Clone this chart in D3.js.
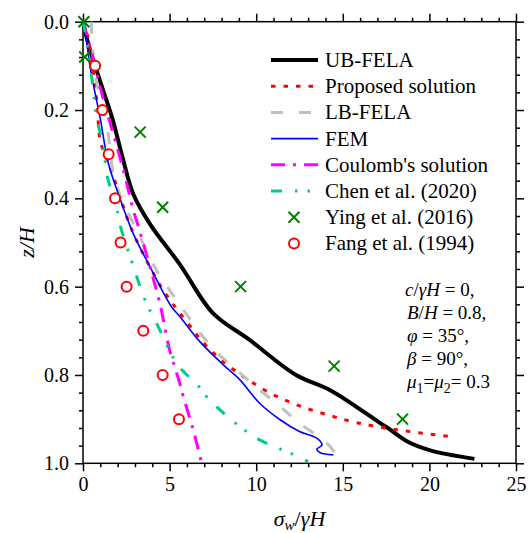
<!DOCTYPE html>
<html>
<head>
<meta charset="utf-8">
<script src="https://cdn.jsdelivr.net/npm/d3@7"></script>
<style>
  body { margin: 0; background: #fff; }
  svg text { font-family: "Liberation Serif", "Times New Roman", serif !important; fill: #000; }
</style>
</head>
<body>
<div id="chart"></div>
<script>
// depth ratios z/H and normalised pressure sigma_w/gammaH
var ubX = [0, 0.3, 0.7, 1.2, 1.7, 2.3, 2.9, 3.9, 5.6, 7.5, 9.6, 12.3, 14.3, 17.2, 17.6, 18.7, 20.0, 22.6];
var ubZ = [0, 0.05, 0.1, 0.16, 0.22, 0.31, 0.39, 0.46, 0.55, 0.66, 0.72, 0.80, 0.835, 0.91, 0.92, 0.95, 0.97, 0.99];

var propX = [0, 0.25, 0.8, 1.0, 1.66, 2.7, 3.4, 4.5, 5.4, 6.4, 6.9, 8.1, 9.5, 11.0, 12.5, 14.1, 15.8, 18.3, 21.3];
var propZ = [0, 0.03, 0.18, 0.27, 0.34, 0.46, 0.52, 0.6, 0.65, 0.7, 0.725, 0.77, 0.81, 0.845, 0.87, 0.89, 0.908, 0.925, 0.94];

var lbX = [0.5, 0.5, 0.8, 1.4, 1.85, 3.2, 4.35, 5.4, 6.3, 7.5, 8.9, 10.2, 11.4, 12.5, 14.1, 14.7];
var lbZ = [0, 0.03, 0.14, 0.24, 0.36, 0.48, 0.57, 0.63, 0.68, 0.74, 0.79, 0.834, 0.872, 0.909, 0.955, 0.985];

var femX = [0.1, 0.4, 1.0, 1.46, 2.04, 2.9, 3.87, 5.1, 5.6, 6.76, 8.1, 9.06, 10.2, 11.4, 12.5, 13.5, 13.8, 13.5, 13.7, 14.45];
var femZ = [0, 0.1, 0.22, 0.32, 0.39, 0.48, 0.555, 0.645, 0.668, 0.725, 0.777, 0.811, 0.864, 0.902, 0.928, 0.943, 0.959, 0.968, 0.976, 0.981];

var coulX = [0, 0.5, 1.0, 1.5, 2.33, 2.9, 3.2, 3.9, 4.45, 5.0, 5.6, 5.8, 6.37, 6.85];
var coulZ = [0, 0.07, 0.15, 0.22, 0.336, 0.426, 0.464, 0.56, 0.64, 0.743, 0.82, 0.85, 0.925, 1.0];

var chenX = [0, 0.1, 0.5, 0.8, 1.17, 1.4, 1.94, 2.14, 3.0, 3.58, 4.25, 5.41, 5.9, 6.56, 7.23, 8.7, 10.2, 11.95, 13.0];
var chenZ = [0, 0.02, 0.125, 0.22, 0.28, 0.35, 0.42, 0.46, 0.565, 0.63, 0.683, 0.774, 0.796, 0.82, 0.853, 0.906, 0.947, 0.977, 0.996];

var yingX = [0.05, 0.1, 3.3, 4.6, 9.1, 14.5, 18.45];
var yingZ = [0, 0.08, 0.25, 0.42, 0.6, 0.78, 0.9];

var fangX = [0.7, 1.12, 1.48, 1.85, 2.17, 2.52, 3.48, 4.6, 5.54];
var fangZ = [0.1, 0.2, 0.3, 0.4, 0.5, 0.6, 0.7, 0.8, 0.9];

var xTicks = [0, 5, 10, 15, 20, 25];
var yTicks = [0, 0.2, 0.4, 0.6, 0.8, 1.0];

var W = 528, H = 533;
var pL = 83, pR = 516, pT = 21.7, pB = 463.3;
var serif = "Liberation Serif";

var svg = d3.select("#chart").append("svg")
    .attr("width", W)
    .attr("height", H)
    .attr("font-family", serif);

var x = d3.scaleLinear().domain([0, 25]).range([pL, pR]);
var y = d3.scaleLinear().domain([0, 1]).range([pT, pB]);

var minorX = d3.range(0, 25.01, 1).filter(function(v){ return v % 5 !== 0; });
var minorY = d3.range(0, 1.001, 0.04).map(function(v){ return +v.toFixed(2); })
    .filter(function(v){ return Math.abs(v*5 - Math.round(v*5)) > 1e-6; });

function styleAxis(g) {
  g.attr("font-family", serif);
  g.select(".domain").remove();
  g.selectAll("line").attr("stroke", "#000").attr("stroke-width", 1.5);
  g.selectAll("text").style("font-size", "20px").style("font-family", serif).attr("fill", "#000");
}

// bottom
svg.append("g").attr("transform", "translate(0," + pB + ")")
  .call(d3.axisBottom(x).tickValues(xTicks).tickSize(8).tickPadding(6).tickFormat(d3.format("d")))
  .call(styleAxis);
svg.append("g").attr("transform", "translate(0," + pB + ")")
  .call(d3.axisBottom(x).tickValues(minorX).tickSize(4).tickFormat(""))
  .call(styleAxis);
// top
svg.append("g").attr("transform", "translate(0," + pT + ")")
  .call(d3.axisTop(x).tickValues(xTicks).tickSize(8).tickFormat(""))
  .call(styleAxis);
svg.append("g").attr("transform", "translate(0," + pT + ")")
  .call(d3.axisTop(x).tickValues(minorX).tickSize(4).tickFormat(""))
  .call(styleAxis);
// left
svg.append("g").attr("transform", "translate(" + pL + ",0)")
  .call(d3.axisLeft(y).tickValues(yTicks).tickSize(8).tickPadding(6).tickFormat(d3.format(".1f")))
  .call(styleAxis);
svg.append("g").attr("transform", "translate(" + pL + ",0)")
  .call(d3.axisLeft(y).tickValues(minorY).tickSize(4).tickFormat(""))
  .call(styleAxis);
// right
svg.append("g").attr("transform", "translate(" + pR + ",0)")
  .call(d3.axisRight(y).tickValues(yTicks).tickSize(8).tickFormat(""))
  .call(styleAxis);
svg.append("g").attr("transform", "translate(" + pR + ",0)")
  .call(d3.axisRight(y).tickValues(minorY).tickSize(4).tickFormat(""))
  .call(styleAxis);

svg.append("rect")
  .attr("x", pL).attr("y", pT)
  .attr("width", pR - pL).attr("height", pB - pT)
  .attr("fill", "none").attr("stroke", "#000").attr("stroke-width", 1.5);

function pts(xs, zs) { return xs.map(function(v, i){ return [v, zs[i]]; }); }

var line = d3.line()
  .x(function(d){ return x(d[0]); })
  .y(function(d){ return y(d[1]); })
  .curve(d3.curveCatmullRom.alpha(0.5));

var series = [
  {name: "UB-FELA", xs: ubX, zs: ubZ, color: "#000000", width: 4, dash: null},
  {name: "Proposed solution", xs: propX, zs: propZ, color: "#ff0000", width: 3, dash: "4.5,8"},
  {name: "LB-FELA", xs: lbX, zs: lbZ, color: "#c0c0c0", width: 3, dash: "12,16"},
  {name: "FEM", xs: femX, zs: femZ, color: "#0000ff", width: 1.6, dash: null},
  {name: "Coulomb's solution", xs: coulX, zs: coulZ, color: "#ff00ff", width: 3, dash: "14,8,3,8"},
  {name: "Chen et al. (2020)", xs: chenX, zs: chenZ, color: "#00cc88", width: 3, dash: "11,13,2.5,10,2.5,13"}
];

series.forEach(function(s) {
  svg.append("path")
    .datum(pts(s.xs, s.zs))
    .attr("fill", "none")
    .attr("stroke", s.color)
    .attr("stroke-width", s.width)
    .attr("stroke-dasharray", s.dash)
    .attr("d", line);
});

function cross(g, cx, cy) {
  var r = 5.5;
  g.append("path")
    .attr("d", "M" + (cx-r) + "," + (cy-r) + "L" + (cx+r) + "," + (cy+r) +
               "M" + (cx-r) + "," + (cy+r) + "L" + (cx+r) + "," + (cy-r))
    .attr("stroke", "#008000").attr("stroke-width", 2).attr("fill", "none");
}

var marks = svg.append("g");
yingX.forEach(function(v, i){ cross(marks, x(v), y(yingZ[i])); });
marks.selectAll("circle.fang")
  .data(pts(fangX, fangZ))
  .enter().append("circle")
  .attr("class", "fang")
  .attr("cx", function(d){ return x(d[0]); })
  .attr("cy", function(d){ return y(d[1]); })
  .attr("r", 5)
  .attr("fill", "#fff")
  .attr("stroke", "#ff0000")
  .attr("stroke-width", 2);

// legend
var lg = svg.append("g");
var lx0 = 271, lx1 = 318, ly0 = 60, ldy = 26.2;
series.forEach(function(s, i) {
  var yy = ly0 + i*ldy;
  lg.append("line")
    .attr("x1", lx0).attr("x2", lx1).attr("y1", yy).attr("y2", yy)
    .attr("stroke", s.color).attr("stroke-width", s.width)
    .attr("stroke-dasharray", s.dash);
  lg.append("text").attr("x", 325).attr("y", yy + 7)
    .style("font-size", "21px").text(s.name);
});
var yi = ly0 + 6*ldy, fi = ly0 + 7*ldy;
cross(lg, 294, yi);
lg.append("text").attr("x", 325).attr("y", yi + 7).style("font-size", "21px").text("Ying et al. (2016)");
lg.append("circle").attr("cx", 294).attr("cy", fi).attr("r", 5)
  .attr("fill", "#fff").attr("stroke", "#ff0000").attr("stroke-width", 2);
lg.append("text").attr("x", 325).attr("y", fi + 7).style("font-size", "21px").text("Fang et al. (1994)");

// parameter annotation
var ann = svg.append("g").style("font-size", "19px");
var ax = 405, ay = [296, 319, 342, 365, 388];
var t;
t = ann.append("text").attr("x", ax).attr("y", ay[0]);
t.append("tspan").style("font-style", "italic").text("c");
t.append("tspan").text("/");
t.append("tspan").style("font-style", "italic").text("γH");
t.append("tspan").text(" = 0,");
t = ann.append("text").attr("x", ax + 2).attr("y", ay[1]);
t.append("tspan").style("font-style", "italic").text("B");
t.append("tspan").text("/");
t.append("tspan").style("font-style", "italic").text("H");
t.append("tspan").text(" = 0.8,");
t = ann.append("text").attr("x", ax + 2).attr("y", ay[2]);
t.append("tspan").style("font-style", "italic").text("φ");
t.append("tspan").text(" = 35°,");
t = ann.append("text").attr("x", ax + 2).attr("y", ay[3]);
t.append("tspan").style("font-style", "italic").text("β");
t.append("tspan").text(" = 90°,");
t = ann.append("text").attr("x", ax + 2).attr("y", ay[4]);
t.append("tspan").style("font-style", "italic").text("μ");
t.append("tspan").attr("dy", 5).style("font-size", "14px").text("1");
t.append("tspan").attr("dy", -5).text("=");
t.append("tspan").style("font-style", "italic").text("μ");
t.append("tspan").attr("dy", 5).style("font-size", "14px").text("2");
t.append("tspan").attr("dy", -5).text("= 0.3");

// axis titles
var xt = svg.append("text")
  .attr("x", (pL + pR) / 2).attr("y", 526)
  .attr("text-anchor", "middle").style("font-size", "22px");
xt.append("tspan").style("font-style", "italic").text("σ");
xt.append("tspan").attr("dy", 4).style("font-size", "15px").style("font-style", "italic").text("w");
xt.append("tspan").attr("dy", -4).text("/");
xt.append("tspan").style("font-style", "italic").text("γH");

svg.append("text")
  .attr("transform", "translate(34," + ((pT + pB) / 2) + ") rotate(-90)")
  .attr("text-anchor", "middle")
  .style("font-size", "22px").style("font-style", "italic")
  .text("z/H");
</script>
</body>
</html>
